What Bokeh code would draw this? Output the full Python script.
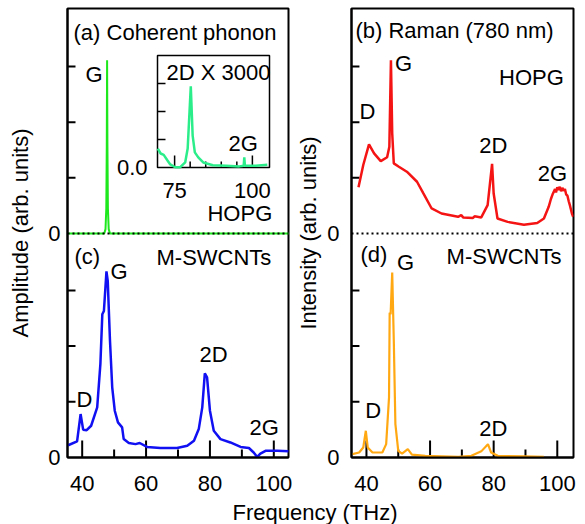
from bokeh.plotting import figure
from bokeh.models import Range1d, FixedTicker, CustomJSTickFormatter, Span, Div
from bokeh.layouts import row, column
from bokeh.embed import file_html
from bokeh.resources import INLINE
from bokeh.core.properties import value

# ---------------- data ----------------
# (a) coherent phonon, HOPG
cp_hopg_freq = [35.0, 46.9, 47.3, 47.55, 47.7, 47.8, 47.9, 48.05, 48.3, 48.7, 105.0]
cp_hopg_amp = [0.0, 0.0, 0.08, 0.45, 1.6, 3.11, 1.6, 0.45, 0.08, 0.0, 0.0]

# inset: 2D x 3000
inset_freq = [69.6, 70.5, 71.5, 72.6, 73.6, 75.2, 76.8, 78.4, 79.2, 80.2, 80.8, 81.5, 82.6,
              84.2, 87.3, 91.6, 95.8, 97.2, 97.4, 97.6, 101.1, 104.8]
inset_amp = [0.67, 0.50, 0.45, 0.27, 0.11, 0.01, 0.01, 0.18, 0.68, 2.90, 1.14, 0.54, 0.36,
             0.18, 0.08, 0.06, 0.04, 0.06, 0.36, 0.06, 0.06, 0.10]

# (b) Raman, HOPG
raman_hopg_freq = [37.5, 39.0, 40.8, 42.4, 44.5, 46.5, 47.2, 47.7, 48.1, 48.6, 50.2, 52.7, 55.9,
                   57.9, 60.5, 63.6, 68.8, 69.8, 70.4, 73.5, 74.0, 76.1, 78.1, 79.5, 80.0, 81.2,
                   84.4, 89.5, 93.7, 95.8, 97.3, 98.0, 98.5, 98.9, 99.3, 99.6, 100.0, 100.4,
                   100.8, 101.2, 101.6, 102.0, 102.4, 102.8, 103.2, 103.6, 104.0, 104.6, 105.0]
raman_hopg_int = [0.83, 1.23, 1.60, 1.44, 1.30, 1.37, 1.56, 3.11, 1.80, 1.26, 1.20, 1.11, 0.93,
                  0.72, 0.45, 0.36, 0.30, 0.33, 0.29, 0.28, 0.31, 0.29, 0.51, 1.25, 0.72, 0.27,
                  0.21, 0.16, 0.19, 0.27, 0.48, 0.62, 0.70, 0.75, 0.80, 0.74, 0.83, 0.78,
                  0.84, 0.76, 0.82, 0.77, 0.80, 0.70, 0.68, 0.58, 0.50, 0.36, 0.30]

# (c) coherent phonon, M-SWCNTs
cp_cnt_freq = [35.6, 38.4, 39.5, 40.3, 41.4, 42.8, 44.7, 45.7, 46.3, 46.8, 47.6, 48.0, 48.7,
               49.4, 50.2, 51.2, 52.5, 53.0, 54.6, 56.7, 58.0, 60.3, 64.5, 69.7, 72.9, 75.0,
               76.5, 77.6, 78.4, 79.1, 80.0, 81.2, 83.3, 86.4, 89.6, 92.2, 93.7, 94.8, 95.8,
               97.4, 101.0, 104.7]
cp_cnt_amp = [0.22, 0.29, 0.78, 0.50, 0.49, 0.57, 0.90, 1.68, 2.57, 2.63, 3.34, 3.17, 2.10,
              1.26, 0.84, 0.63, 0.54, 0.33, 0.26, 0.24, 0.26, 0.19, 0.17, 0.17, 0.21, 0.30,
              0.51, 0.90, 1.51, 1.44, 0.84, 0.48, 0.33, 0.27, 0.19, 0.17, 0.09, 0.01, 0.07,
              0.12, 0.12, 0.11]

# (d) Raman, M-SWCNTs
raman_cnt_freq = [35.6, 37.7, 39.0, 39.8, 40.4, 41.9, 45.0, 46.2, 47.1, 47.3, 47.6, 48.1, 48.6,
                  49.1, 50.0, 51.2, 53.0, 54.3, 58.5, 68.9, 73.0, 76.1, 78.2, 79.2, 81.3, 89.6,
                  95.8]
raman_cnt_int = [0.06, 0.09, 0.18, 0.48, 0.18, 0.09, 0.09, 0.24, 1.08, 2.60, 2.57, 3.32, 2.10,
                 0.60, 0.12, 0.07, 0.15, 0.05, 0.03, 0.01, 0.03, 0.11, 0.24, 0.09, 0.03, 0.02,
                 0.01]

x_major = [40, 60, 80, 100]
x_minor = [50, 70, 90]
y_ticks_panel = [0, 1, 2, 3]
inset_x_major = [75, 100]
inset_x_minor = [80, 85, 90, 95]
inset_y_ticks = [1, 2, 3]

# ---------------- style / layout ----------------
FONT = "Liberation Sans"
OFF = 4.02      # y offset of the upper panel inside each column
YMAX = 8.06
FRAME_H = 449
B_TOP = 8
B_BOT = 46
C_GREEN = "#1de81d"
C_MINT = "#2bee8a"
C_RED = "#f51414"
C_BLUE = "#1010f2"
C_ORANGE = "#ffa812"


def make_fig(xr, frame_w, border_left, border_right, ylabel, label_standoff, axis_standoff):
    p = figure(width=border_left + frame_w + border_right, height=B_TOP + FRAME_H + B_BOT,
               x_range=Range1d(*xr), y_range=Range1d(0, YMAX), output_backend="svg",
               toolbar_location=None, min_border_left=border_left,
               min_border_right=border_right, min_border_top=B_TOP, min_border_bottom=B_BOT)
    p.extra_y_ranges = {"top": Range1d(-OFF, YMAX - OFF)}
    p.grid.visible = False
    p.background_fill_color = "white"
    p.outline_line_color = "black"
    p.outline_line_width = 2
    p.outline_line_alpha = 1

    xa = p.xaxis[0]
    xa.ticker = FixedTicker(ticks=x_major, minor_ticks=x_minor)
    xa.major_tick_in = 0
    xa.major_tick_out = 0
    xa.minor_tick_in = 0
    xa.minor_tick_out = 0
    xa.axis_line_width = 2
    xa.major_label_text_font = FONT
    xa.major_label_text_font_size = "22px"
    xa.major_label_text_color = "black"
    xa.major_label_standoff = 18

    ya = p.yaxis[0]
    ya.ticker = FixedTicker(ticks=y_ticks_panel + [t + OFF for t in y_ticks_panel])
    ya.formatter = CustomJSTickFormatter(
        args={"off": OFF},
        code="return (Math.abs(tick) < 1e-6 || Math.abs(tick - off) < 1e-6) ? '0' : '';")
    ya.major_tick_in = 0
    ya.major_tick_out = 0
    ya.minor_tick_line_color = None
    ya.axis_line_width = 2
    ya.major_label_text_font = FONT
    ya.major_label_text_font_size = "22px"
    ya.major_label_text_color = "black"
    ya.major_label_standoff = label_standoff
    ya.axis_label = ylabel
    ya.axis_label_text_font = FONT
    ya.axis_label_text_font_size = "22px"
    ya.axis_label_text_font_style = "normal"
    ya.axis_label_text_color = "black"
    ya.axis_label_standoff = axis_standoff

    # tick marks pointing into the frame, drawn through the plot's scales
    xs = frame_w / (xr[1] - xr[0])
    ys = FRAME_H / YMAX
    p.segment(x0=x_major, x1=x_major, y0=[0] * len(x_major), y1=[17 / ys] * len(x_major),
              line_color="black", line_width=2)
    p.segment(x0=x_minor, x1=x_minor, y0=[0] * len(x_minor), y1=[8 / ys] * len(x_minor),
              line_color="black", line_width=2)
    yt = [t for t in y_ticks_panel if t != 0] + [t + OFF for t in y_ticks_panel if t != 0]
    p.segment(x0=[xr[0]] * len(yt), x1=[xr[0] + 8 / xs] * len(yt), y0=yt, y1=yt,
              line_color="black", line_width=2)
    return p


DY = 2 / (FRAME_H / YMAX)


def add_label(p, x, y, text, size="22px"):
    p.text(x=[x], y=[y + DY], text=[text], text_font=value(FONT), text_font_size=size,
           text_color="black", text_align="left", text_baseline="middle")


# ---------- left column: coherent phonon ----------
XR1 = (35.4, 104.6)
FRAME_W1 = 221
f1 = make_fig(XR1, FRAME_W1, 67, 5, "Amplitude (arb. units)", 7, 12)

f1.line(cp_hopg_freq, cp_hopg_amp, y_range_name="top", line_color=C_GREEN, line_width=2)
f1.add_layout(Span(location=OFF, dimension="width", line_color="black", line_width=2,
                   line_dash="2 3"))
f1.line(cp_cnt_freq, cp_cnt_amp, line_color=C_BLUE, line_width=2.5)

# inset drawn with its own ranges mapped onto a sub-rectangle of the frame
ix0, ix1 = 69.5, 105.5
iy0, iy1 = 0.0, 4.0
in_left, in_right, in_top, in_bottom = 90, 202, 47, 159   # px within frame
sx = (in_right - in_left) / (ix1 - ix0)
sy = (in_bottom - in_top) / (iy1 - iy0)
f1.extra_x_ranges = {"ix": Range1d(ix0 - in_left / sx, ix1 + (FRAME_W1 - in_right) / sx)}
f1.extra_y_ranges["iy"] = Range1d(iy0 - (FRAME_H - in_bottom) / sy, iy1 + in_top / sy)
IR = dict(x_range_name="ix", y_range_name="iy")

f1.quad(left=[ix0], right=[ix1], bottom=[iy0], top=[iy1], fill_color="white",
        line_color="black", line_width=1.5, **IR)
f1.segment(x0=[ix0] * len(inset_y_ticks), x1=[ix0 + 8 / sx] * len(inset_y_ticks),
           y0=inset_y_ticks, y1=inset_y_ticks, line_color="black", line_width=1.5, **IR)
f1.segment(x0=inset_x_major, x1=inset_x_major, y0=[iy0] * len(inset_x_major),
           y1=[iy0 + 12 / sy] * len(inset_x_major), line_color="black", line_width=1.5, **IR)
f1.segment(x0=inset_x_minor, x1=inset_x_minor, y0=[iy0] * len(inset_x_minor),
           y1=[iy0 + 6 / sy] * len(inset_x_minor), line_color="black", line_width=1.5, **IR)
f1.line(inset_freq, inset_amp, line_color=C_MINT, line_width=2.5, **IR)
f1.text(x=inset_x_major, y=[iy0 - 23 / sy] * len(inset_x_major),
        text=[str(v) for v in inset_x_major], text_font=value(FONT), text_font_size="22px",
        text_align="center", text_baseline="middle", text_color="black", **IR)
f1.text(x=[ix0 - 10 / sx], y=[iy0], text=["0.0"], text_font=value(FONT),
        text_font_size="22px", text_align="right", text_baseline="middle",
        text_color="black", **IR)
f1.text(x=[ix0 + 9 / sx], y=[iy0 + 95 / sy], text=["2D X 3000"], text_font=value(FONT),
        text_font_size="22px", text_align="left", text_baseline="middle",
        text_color="black", **IR)
f1.text(x=[ix0 + 71 / sx], y=[iy0 + 24 / sy], text=["2G"], text_font=value(FONT),
        text_font_size="22px", text_align="left", text_baseline="middle",
        text_color="black", **IR)

add_label(f1, 37.28, 7.60, "(a) Coherent phonon")
add_label(f1, 41.04, 6.84, "G")
add_label(f1, 79.23, 4.34, "HOPG")
add_label(f1, 37.59, 3.58, "(c)")
add_label(f1, 63.27, 3.56, "M-SWCNTs")
add_label(f1, 48.86, 3.31, "G")
add_label(f1, 38.22, 1.01, "D")
add_label(f1, 76.73, 1.82, "2D")
add_label(f1, 92.38, 0.50, "2G")

# ---------- right column: Raman ----------
XR2 = (35.3, 105.1)
f2 = make_fig(XR2, 224, 56, 5, "Intensity (arb. units)", 12, 3)
f2.line(raman_hopg_freq, raman_hopg_int, y_range_name="top", line_color=C_RED, line_width=2.5)
f2.add_layout(Span(location=OFF, dimension="width", line_color="black", line_width=2,
                   line_dash="2 3"))
f2.line(raman_cnt_freq, raman_cnt_int, line_color=C_ORANGE, line_width=2.2)

add_label(f2, 36.55, 7.63, "(b) Raman (780 nm)")
add_label(f2, 49.0, 7.04, "G")
add_label(f2, 81.70, 6.78, "HOPG")
add_label(f2, 37.79, 6.18, "D")
add_label(f2, 75.47, 5.57, "2D")
add_label(f2, 93.85, 5.07, "2G")
add_label(f2, 38.10, 3.60, "(d)")
add_label(f2, 49.63, 3.46, "G")
add_label(f2, 65.20, 3.57, "M-SWCNTs")
add_label(f2, 39.66, 0.80, "D")
add_label(f2, 75.47, 0.48, "2D")

TOTAL_W = 67 + 221 + 5 + 56 + 224 + 5
xlabel = Div(
    text=('<div style="width:%dpx;box-sizing:border-box;text-align:center;'
          'padding-left:42px;margin-top:-8px;font-family:\'Liberation Sans\';'
          'font-size:22px;line-height:22px;color:black;">Frequency (THz)</div>') % TOTAL_W,
    width=TOTAL_W, height=18)

layout = column(row(f1, f2, spacing=0), xlabel, spacing=0)

with open("out.html", "w") as fh:
    fh.write(file_html(layout, INLINE))
